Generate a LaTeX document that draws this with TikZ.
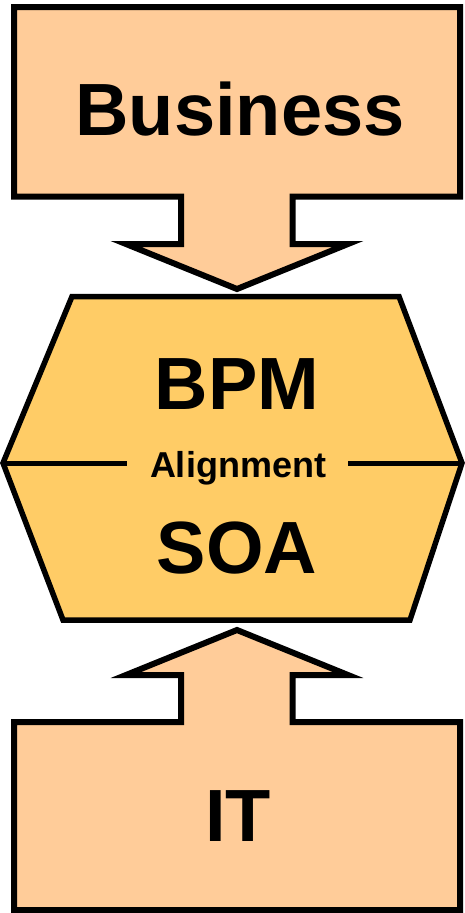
\documentclass[tikz,border=0pt]{standalone}
\usepackage{fontspec}
\setmainfont{Liberation Sans}
\definecolor{peach}{HTML}{FFCC99}
\definecolor{amber}{HTML}{FFCC66}
\begin{document}
\begin{tikzpicture}[x=1pt,y=-1pt,
  blockarrow/.style={draw=black,fill=peach,line width=6pt,line join=miter},
  hexblock/.style={draw=black,fill=amber,line width=5.5pt,line join=miter},
  splitline/.style={draw=black,line width=5pt},
  bigtext/.style={font=\fontsize{74}{78}\selectfont\bfseries,inner sep=0pt,anchor=base},
  smalltext/.style={font=\fontsize{36}{40}\selectfont\bfseries,inner sep=0pt,anchor=base}]
\useasboundingbox (0,0) rectangle (464,913);

% Business block with downward arrow
\draw[blockarrow] (14,7) -- (460,7) -- (460,196.5) -- (292.5,196.5) -- (292.5,244)
  -- (348,244) -- (237,289) -- (126,244) -- (181,244) -- (181,196.5) -- (14,196.5) -- cycle;

% IT block with upward arrow
\draw[blockarrow] (14,910) -- (460,910) -- (460,722) -- (292.5,722) -- (292.5,675)
  -- (348,675) -- (237,630) -- (126,675) -- (181,675) -- (181,722) -- (14,722) -- cycle;

% central hexagon
\draw[hexblock] (72,296.5) -- (399,296.5) -- (462,463) -- (410,620) -- (63,620)
  -- (3,463) -- cycle;

\coordinate (hl) at (3,463);
\coordinate (hr) at (462,463);

\node[bigtext] (business) at (240,135) {Business};
\node[bigtext] (bpm) at (237,409) {BPM};
\node[bigtext] (soa) at (237,573) {SOA};
\node[bigtext] (it) at (238,841) {IT};
\node[smalltext] (align) at (238,477) {Alignment};

% dividing line interrupted by the label
\draw[splitline] (hl) -- (127,463);
\draw[splitline] (348,463) -- (hr);
\end{tikzpicture}
\end{document}
